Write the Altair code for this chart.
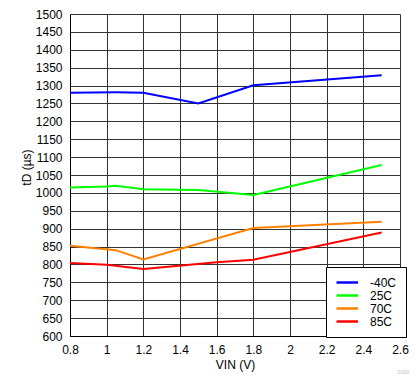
import altair as alt
import pandas as pd

series_names = ["-40C", "25C", "70C", "85C"]
series_colors = ["#0000FF", "#00FF00", "#FF8000", "#FF0000"]

vin_m40 = [0.8, 1.05, 1.2, 1.5, 1.8, 2.5]
td_m40 = [1280, 1281, 1280, 1250, 1301, 1329]

vin_25 = [0.8, 1.0, 1.05, 1.2, 1.5, 1.8, 2.5]
td_25 = [1015, 1018, 1020, 1010, 1008, 994, 1078]

vin_70 = [0.8, 1.05, 1.2, 1.8, 2.5]
td_70 = [852, 840, 814, 902, 919]

vin_85 = [0.8, 1.0, 1.2, 1.6, 1.8, 2.5]
td_85 = [804, 799, 787, 806, 813, 889]

x_ticks = [0.8, 1.0, 1.2, 1.4, 1.6, 1.8, 2.0, 2.2, 2.4, 2.6]
y_ticks = list(range(600, 1501, 50))

rows = []
for name, xs, ys in [("-40C", vin_m40, td_m40), ("25C", vin_25, td_25),
                     ("70C", vin_70, td_70), ("85C", vin_85, td_85)]:
    for i, (x, y) in enumerate(zip(xs, ys)):
        rows.append({"series": name, "vin": x, "td": y, "order": i})
df = pd.DataFrame(rows)

FONT = "Liberation Sans"

lines = alt.Chart(df).mark_line(strokeWidth=2, clip=True).encode(
    x=alt.X("vin:Q",
            scale=alt.Scale(domain=[0.8, 2.6], nice=False, zero=False),
            axis=alt.Axis(values=x_ticks, format=".1~f", title="VIN (V)", grid=True,
                          gridColor="#333333", gridWidth=1, ticks=False,
                          domainColor="#000000", labelPadding=8,
                          labelFontSize=12, labelFont=FONT, labelColor="#000000",
                          labelFlush=False,
                          titleFont=FONT, titleFontSize=12, titleFontWeight="normal",
                          titleColor="#000000", titleX=165, titleY=28,
                          titleBaseline="middle", titleAnchor="middle")),
    y=alt.Y("td:Q",
            scale=alt.Scale(domain=[600, 1500], nice=False, zero=False),
            axis=alt.Axis(values=y_ticks, format="d", title="tD (µs)", grid=True,
                          gridColor="#333333", gridWidth=1, ticks=False,
                          domainColor="#000000", labelPadding=8,
                          labelFontSize=12, labelFont=FONT, labelColor="#000000",
                          labelFlush=False,
                          titleFont=FONT, titleFontSize=12, titleFontWeight="normal",
                          titleColor="#000000", titleX=-44, titleY=153,
                          titleAngle=-90, titleBaseline="middle",
                          titleAlign="center")),
    color=alt.Color("series:N",
                    scale=alt.Scale(domain=series_names, range=series_colors),
                    legend=alt.Legend(title=None, orient="none",
                                      legendX=256, legendY=253,
                                      symbolType="M-1,0H3.3", symbolSize=100,
                                      symbolStrokeWidth=2.5,
                                      labelFont=FONT, labelFontSize=12,
                                      labelColor="#000000", labelOffset=22,
                                      rowPadding=0, padding=9,
                                      strokeColor="#000000", fillColor="#FFFFFF")),
    order="order:Q",
)

note = alt.Chart(pd.DataFrame({"t": ["G000"]})).mark_text(
    fontSize=5, color="#BBBBBB", font=FONT, align="left", baseline="middle"
).encode(text="t:N", x=alt.value(327), y=alt.value(358))

chart = alt.layer(lines, note).properties(
    width=330, height=322,
    padding={"left": 62, "top": 6, "right": 11, "bottom": 38},
    autosize=alt.AutoSizeParams(type="none"),
).configure_view(stroke="#000000", strokeWidth=1).configure(background="#FFFFFF")

chart.save("out.html", embed_options={"renderer": "svg", "actions": False})
